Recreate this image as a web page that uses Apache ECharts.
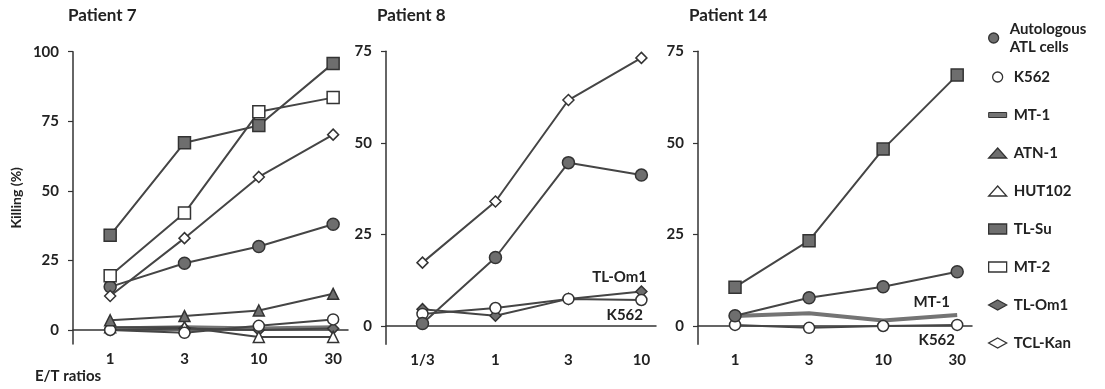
<!DOCTYPE html>
<html>
<head>
<meta charset="utf-8">
<script src="https://cdn.jsdelivr.net/npm/echarts@6/dist/echarts.min.js"></script>
<style>
  html, body { margin: 0; padding: 0; background: #fff; }
  #chart { width: 1105px; height: 389px; }
</style>
</head>
<body>
<div id="chart"></div>
<script>
// tick labels for each panel (E/T ratios)
const xLabels7 = ['1', '3', '10', '30']
const xLabels8 = ['1/3', '1', '3', '10']
const xLabels14 = ['1', '3', '10', '30']
const yTicks7 = [0, 25, 50, 75, 100]
const yTicks8 = [0, 25, 50, 75]
const yTicks14 = [0, 25, 50, 75]

// Patient 7 killing (%)
const autologous7 = [15.5, 24, 30, 38]
const k562_7 = [0, -1, 1.5, 3.8]
const mt1_7 = [0.5, 1, 0.5, 1]
const atn1_7 = [3.5, 5, 7, 13]
const hut102_7 = [1, 1, -2.5, -2.5]
const tlsu7 = [34, 67.3, 73.5, 95.8]
const mt2_7 = [19.5, 42, 78.4, 83.5]
const tlom1_7 = [0, 0.5, 0, 0.5]
const tclkan7 = [12.2, 33, 55, 70.2]

// Patient 8 killing (%)
const tclkan8 = [17.3, 34, 61.7, 73.2]
const autologous8 = [0.7, 18.7, 44.6, 41.2]
const tlom1_8 = [4.6, 2.8, 7.4, 9.4]
const k562_8 = [3.3, 4.9, 7.4, 7.1]

// Patient 14 killing (%)
const tlsu14 = [10.6, 23.3, 48.3, 68.5]
const autologous14 = [2.8, 7.7, 10.7, 14.8]
const mt1_14 = [2.7, 3.5, 1.5, 3]
const k562_14 = [0.3, -0.5, 0, 0.3]

const FONT = 'Lato'
const TXT = '#222'
const LINE = '#454545'
const GRAY = '#6e6e6e'

const markers = {
  'Autologous ATL cells': { symbol: 'circle', size: 12, fill: GRAY },
  'K562': { symbol: 'circle', size: 11, fill: '#fff' },
  'MT-1': { symbol: 'none', size: 0, fill: '#747474' },
  'ATN-1': { symbol: 'triangle', size: 11, fill: GRAY },
  'HUT102': { symbol: 'triangle', size: 11, fill: '#fff' },
  'TL-Su': { symbol: 'rect', size: 12, fill: GRAY },
  'MT-2': { symbol: 'rect', size: 12, fill: '#fff' },
  'TL-Om1': { symbol: 'diamond', size: 11, fill: GRAY },
  'TCL-Kan': { symbol: 'diamond', size: 11, fill: '#fff' }
}

function makeSeries(name, values, idx) {
  const m = markers[name]
  const thick = name === 'MT-1'
  return {
    name: name,
    type: 'line',
    xAxisIndex: idx,
    yAxisIndex: idx,
    data: values.map((v, i) => [i, v]),
    symbol: m.symbol,
    symbolSize: m.size,
    showAllSymbol: true,
    itemStyle: { color: m.fill, borderColor: '#333', borderWidth: 1.5 },
    lineStyle: { color: thick ? '#747474' : LINE, width: thick ? 4 : 2 },
    z: thick ? 1 : 2
  }
}

const grids = [
  { left: 73, top: 51.7, width: 275, height: 292.2, outerBoundsMode: 'none' },
  { left: 386, top: 51.3, width: 270, height: 293, outerBoundsMode: 'none' },
  { left: 698, top: 51.3, width: 274, height: 293, outerBoundsMode: 'none' }
]

function makeX(idx, labels) {
  return {
    type: 'value',
    gridIndex: idx,
    min: -0.5,
    max: 3.2,
    axisLine: { onZero: true, lineStyle: { color: '#333', width: 1.5 } },
    axisTick: { show: false },
    splitLine: { show: false },
    axisLabel: {
      customValues: [0, 1, 2, 3],
      formatter: v => labels[Math.round(v)],
      margin: 8,
      fontFamily: FONT,
      fontWeight: 'bold',
      fontSize: 15,
      color: TXT
    }
  }
}

function makeY(idx, ticks, max) {
  return {
    type: 'value',
    gridIndex: idx,
    min: -5,
    max: max,
    axisLine: { show: true, onZero: false, lineStyle: { color: '#333', width: 1.5 } },
    axisTick: { show: true, customValues: ticks, length: 5, lineStyle: { color: '#333', width: 1.2 } },
    splitLine: { show: false },
    axisLabel: {
      customValues: ticks,
      margin: 14,
      fontFamily: FONT,
      fontWeight: 'bold',
      fontSize: 15,
      color: TXT
    }
  }
}

const yAxes = [makeY(0, yTicks7, 100), makeY(1, yTicks8, 75), makeY(2, yTicks14, 75)]
yAxes[0].name = 'Killing (%)'
yAxes[0].nameLocation = 'middle'
yAxes[0].nameRotate = 90
yAxes[0].nameGap = 50
yAxes[0].nameTextStyle = { fontFamily: FONT, fontWeight: 'bold', fontSize: 14, color: TXT }

const legendText = { fontFamily: FONT, fontWeight: 'bold', fontSize: 15, color: TXT, lineHeight: 18, padding: [0, 0, 0, 2] }

function legendItem(name) {
  const m = markers[name]
  let icon = m.symbol
  if (name === 'MT-1') icon = 'path://M0,0 L18,0 L18,5 L0,5 Z'
  return { name: name, icon: icon, itemStyle: { color: m.fill, borderColor: '#333', borderWidth: name === 'MT-1' ? 1 : 1.3 } }
}

const titleStyle = { fontFamily: FONT, fontWeight: 'bold', fontSize: 17, color: TXT }

const chart = echarts.init(document.getElementById('chart'))
chart.setOption({
  animation: false,
  backgroundColor: '#fff',
  title: [
    { text: 'Patient 7', left: 68, top: 7, padding: 0, textStyle: titleStyle },
    { text: 'Patient 8', left: 377, top: 7, padding: 0, textStyle: titleStyle },
    { text: 'Patient 14', left: 689, top: 7, padding: 0, textStyle: titleStyle }
  ],
  legend: [
    {
      orient: 'vertical', left: 983, top: 15, itemWidth: 18, itemHeight: 10,
      selectedMode: false,
      formatter: n => 'Autologous\nATL cells',
      textStyle: legendText,
      data: [legendItem('Autologous ATL cells')]
    },
    {
      orient: 'vertical', left: 983, top: 63, itemWidth: 18, itemHeight: 10, itemGap: 20,
      selectedMode: false,
      textStyle: legendText,
      data: ['K562', 'MT-1', 'ATN-1', 'HUT102', 'TL-Su', 'MT-2', 'TL-Om1', 'TCL-Kan'].map(legendItem)
    }
  ],
  grid: grids,
  xAxis: [makeX(0, xLabels7), makeX(1, xLabels8), makeX(2, xLabels14)],
  yAxis: yAxes,
  graphic: [
    { type: 'text', left: 35, top: 369, style: { text: 'E/T ratios', font: 'bold 15px Lato', fill: TXT } },
    { type: 'text', x: 647, y: 277, style: { text: 'TL-Om1', font: 'bold 15px Lato', fill: TXT, align: 'right', verticalAlign: 'middle' } },
    { type: 'text', x: 643, y: 315, style: { text: 'K562', font: 'bold 15px Lato', fill: TXT, align: 'right', verticalAlign: 'middle' } },
    { type: 'text', x: 950, y: 302, style: { text: 'MT-1', font: 'bold 15px Lato', fill: TXT, align: 'right', verticalAlign: 'middle' } },
    { type: 'text', x: 955, y: 340, style: { text: 'K562', font: 'bold 15px Lato', fill: TXT, align: 'right', verticalAlign: 'middle' } }
  ],
  series: [
    makeSeries('MT-1', mt1_7, 0),
    makeSeries('TL-Om1', tlom1_7, 0),
    makeSeries('HUT102', hut102_7, 0),
    makeSeries('K562', k562_7, 0),
    makeSeries('ATN-1', atn1_7, 0),
    makeSeries('Autologous ATL cells', autologous7, 0),
    makeSeries('TCL-Kan', tclkan7, 0),
    makeSeries('TL-Su', tlsu7, 0),
    makeSeries('MT-2', mt2_7, 0),

    makeSeries('TL-Om1', tlom1_8, 1),
    makeSeries('K562', k562_8, 1),
    makeSeries('Autologous ATL cells', autologous8, 1),
    makeSeries('TCL-Kan', tclkan8, 1),

    makeSeries('MT-1', mt1_14, 2),
    makeSeries('K562', k562_14, 2),
    makeSeries('Autologous ATL cells', autologous14, 2),
    makeSeries('TL-Su', tlsu14, 2)
  ]
})
</script>
</body>
</html>
